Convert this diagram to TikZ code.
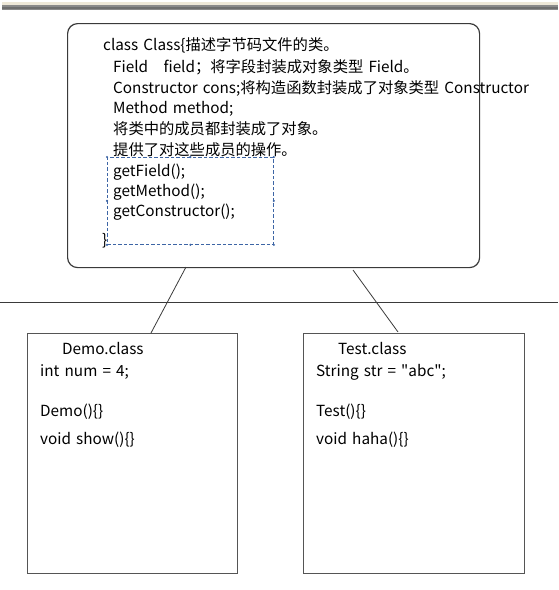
\documentclass[tikz,border=0pt]{standalone}
\usepackage{fontspec}
\setmainfont{Noto Sans CJK SC}[Ligatures=TeXOff,WordSpace=1.5]
\usetikzlibrary{calc}
\definecolor{linegray}{HTML}{3A3A3A}
\definecolor{boxgray}{HTML}{555555}
\definecolor{dashblue}{HTML}{3D65A5}
\definecolor{bandbeige}{HTML}{EEE8D8}
\definecolor{bandgray}{HTML}{8A8A8A}
\definecolor{banddark}{HTML}{6E6E6E}
\begin{document}
\begin{tikzpicture}[x=1pt,y=-1pt,
  txt/.style={anchor=base west,inner sep=0pt,font=\fontsize{15.3}{18}\selectfont},
  classbox/.style={draw=boxgray,line width=1.3pt,anchor=north west,minimum width=210pt,minimum height=240pt,inner sep=0pt},
  handle/.style={circle,fill=dashblue,inner sep=0pt,minimum size=2.4pt},
  conn/.style={draw=linegray,line width=0.8pt}]
\useasboundingbox (0,0) rectangle (558,590);
% top band
\fill[bandbeige] (2,2) rectangle (558,5);
\fill[bandgray] (2,5) rectangle (558,10);
\fill[banddark] (2,6.5) rectangle (558,9);
% main rounded box
\node[draw=linegray,line width=1.2pt,rounded corners=10pt,anchor=north west,minimum width=412pt,minimum height=244pt,inner sep=0pt] (cls) at (67,23) {};
\node[txt] (l1) at (103,50) {class Class\{描述字节码文件的类。};
\node[txt] (l2) at (113,72) {Field\ \ \ field；将字段封装成对象类型 Field。};
\node[txt] (l3) at (113,93) {Constructor cons;将构造函数封装成了对象类型 Constructor};
\node[txt] (l4) at (113,113) {Method method;};
\node[txt] (l5) at (113,134) {将类中的成员都封装成了对象。};
\node[txt] (l6) at (113,155) {提供了对这些成员的操作。};
\node[txt] (l7) at (113,176) {getField();};
\node[txt] (l8) at (113,196) {getMethod();};
\node[txt] (l9) at (113,216) {getConstructor();};
\node[txt] (l10) at (102,245) {\}};
% dashed selection box
\node[draw=dashblue,dash pattern=on 3.5pt off 2pt,line width=0.8pt,anchor=north west,minimum width=166pt,minimum height=87pt,inner sep=0pt] (sel) at (107,157) {};
\foreach \a in {north west,north,north east,east,south east,south,south west,west}
  \node[handle] at (sel.\a) {};
% horizontal line
\coordinate (hl) at (0,302);
\coordinate (hr) at (558,302);
\draw[conn] (hl) -- (hr);
% class boxes
\node[classbox,minimum width=210pt] (demo) at (27,333) {};
\node[classbox,minimum width=221pt] (test) at (303,333) {};
\node[txt] (d1) at (62,354) {Demo.class};
\node[txt] (d2) at (40,376) {int num = 4;};
\node[txt] (d3) at (40,416) {Demo()\{\}};
\node[txt] (d4) at (40,444) {void show()\{\}};
\node[txt] (t1) at (338,354) {Test.class};
\node[txt] (t2) at (316,376) {String str = "abc";};
\node[txt] (t3) at (316,416) {Test()\{\}};
\node[txt] (t4) at (316,444) {void haha()\{\}};
% connectors
\coordinate (c1a) at (186,267);
\coordinate (c1b) at (151,333);
\coordinate (c2a) at (353,270);
\coordinate (c2b) at (398,332);
\draw[conn] (c1a) -- (c1b);
\draw[conn] (c2a) -- (c2b);
\end{tikzpicture}
\end{document}
